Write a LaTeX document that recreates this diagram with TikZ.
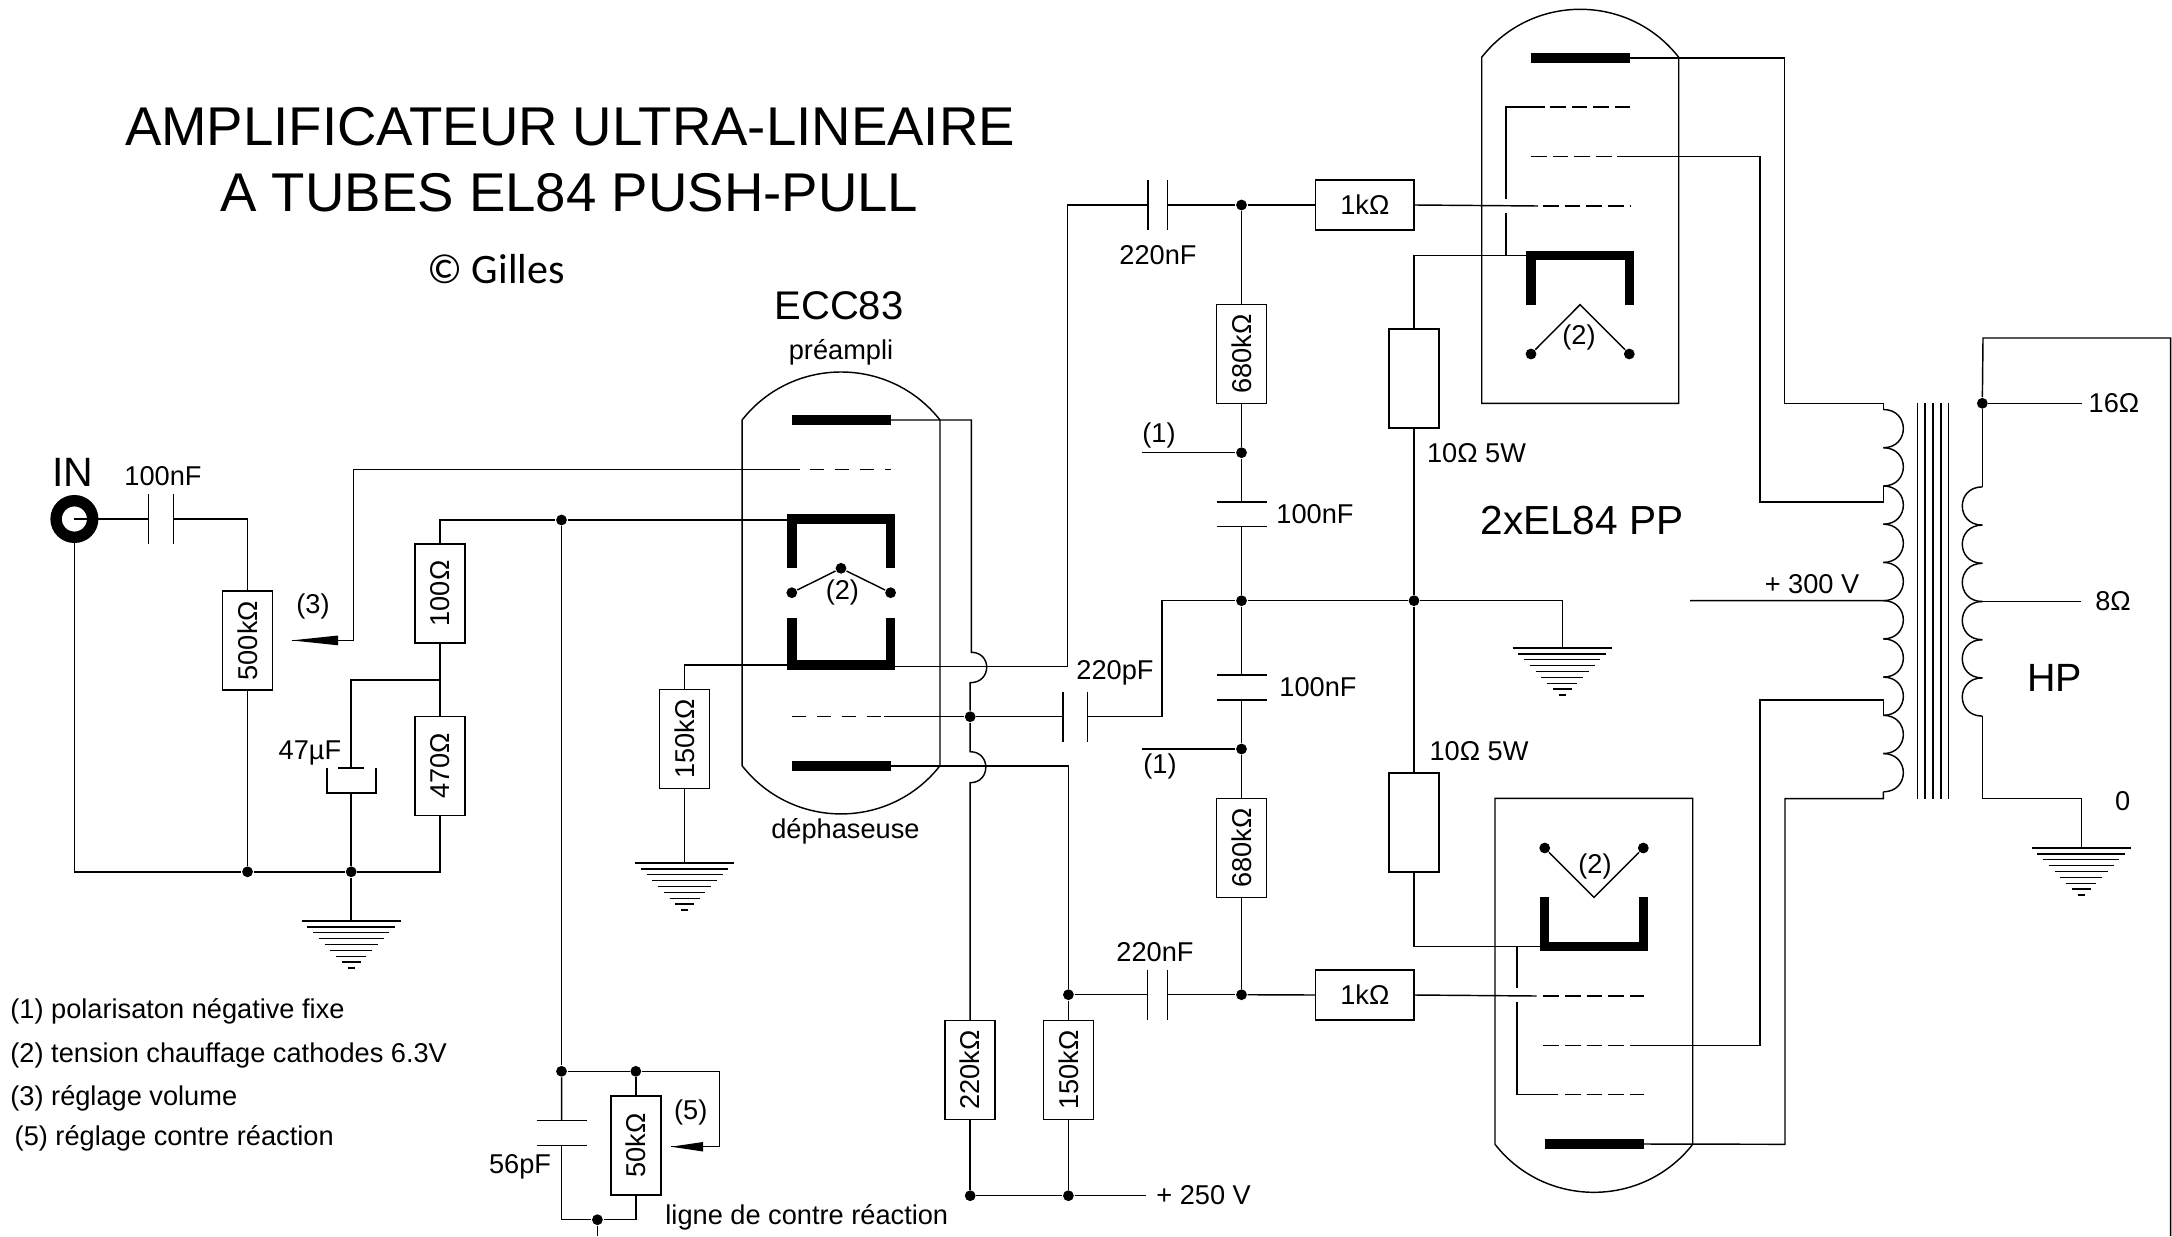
\documentclass[tikz,border=0pt]{standalone}
\usepackage{fontspec}
\setmainfont{Liberation Sans}
\newfontfamily\carlfont{Carlito}
\newcommand{\HCap}[4]{% name, x, y1, y2 : wire runs vertically, plates horizontal
  \coordinate (#1-a) at (#2,#3);\coordinate (#1-b) at (#2,#4);
  \draw ({#2-25},#3) -- ({#2+25},#3);
  \draw ({#2-25},#4) -- ({#2+25},#4);}
\newcommand{\VCap}[4]{% name, x1, x2, y : wire runs horizontally, plates vertical
  \coordinate (#1-a) at (#2,#4);\coordinate (#1-b) at (#3,#4);
  \draw (#2,{#4-25}) -- (#2,{#4+25});
  \draw (#3,{#4-25}) -- (#3,{#4+25});}
\tikzset{
  lab/.style={font=\fontsize{13.6}{15}\selectfont,inner sep=0pt,yshift=-1pt},
  big/.style={font=\fontsize{20}{24}\selectfont,inner sep=0pt},
  vres/.style={draw,rotate=90,minimum width=49.5pt,minimum height=25pt,inner sep=0pt,font=\fontsize{13.6}{15}\selectfont},
  hres/.style={draw,minimum width=49.3pt,minimum height=25pt,inner sep=0pt,font=\fontsize{13.6}{15}\selectfont},
  dot/.style={circle,fill=black,inner sep=0pt,minimum size=5.4pt},
  bar/.style={line width=5pt,line cap=butt},
  cath/.style={line width=4.7pt,line join=miter,line cap=butt},
  gridA/.style={line width=.6pt,dash pattern=on 7pt off 5.5pt},
  gridB/.style={line width=.6pt,dash pattern=on 7.8pt off 3.05pt},
  gndpic/.pic={
    \draw[line width=1.25pt] (-49.6,0) -- (49.6,0);
    \foreach \i in {1,...,8} \draw ({-49.6+5.75*\i},{5.87*\i}) -- ({49.6-5.75*\i},{5.87*\i});
  }
}
\begin{document}
\begin{tikzpicture}[x=0.5pt,y=-0.5pt,line width=.72pt]
\path[fill=white,use as bounding box] (0,0) rectangle (2172,1236);

% ---- titles and notes
\node[font=\fontsize{27.3}{32}\selectfont,inner sep=0pt] (title1) at (570,127) {AMPLIFICATEUR ULTRA-LINEAIRE};
\node[font=\fontsize{27.3}{32}\selectfont,inner sep=0pt] (title2) at (569.3,192.5) {A TUBES EL84 PUSH-PULL};
\node[font=\carlfont\fontsize{21}{25}\selectfont,inner sep=0pt] (title3) at (496,268.7) {© Gilles};
\node[big] (ecc) at (839,306) {ECC83};
\node[lab] (pre) at (841,350.4) {préampli};
\node[lab] (dephas) at (845.4,829) {déphaseuse};
\node[lab,anchor=west] (n1) at (9.7,1009) {(1) polarisaton négative fixe};
\node[lab,anchor=west] (n2) at (9.7,1053.6) {(2) tension chauffage cathodes 6.3V};
\node[lab,anchor=west] (n3) at (9.7,1096.6) {(3) réglage volume};
\node[lab,anchor=west] (n5) at (14,1136.7) {(5) réglage contre réaction};

% ---- input stage
\node[circle,draw,line width=5.7pt,minimum size=18.3pt,inner sep=0pt] (jack) at (74.4,519) {};
\node[font=\fontsize{20.5}{24}\selectfont,inner sep=0pt] (tIN) at (72.5,472) {IN};
\node[lab] (t100n) at (163,474) {100nF};
\VCap{C1}{148.3}{173.6}{519}
\draw (jack.center) -- (C1-a);

\node[vres] (R500) at (247.5,640.7) {500kΩ};
\node[vres] (R100) at (440,593.5) {100Ω};
\node[vres] (R470) at (440,766) {470Ω};
\node[dot] (J1) at (247.5,871.8) {};
\node[dot] (J2) at (351.2,871.8) {};
\coordinate (K1) at (440,680);
\coordinate (C47t) at (351.2,768);
\coordinate (C47b) at (351.2,793);
\draw (C1-b) -| (R500.east);
\draw (jack.south) |- (J1) -- (J2) -| (R470.west);
\draw (R500.west) -- (J1);
\draw (R100.west) -- (R470.east);
\draw (K1) -| (C47t);
\draw (338.4,768) -- (364,768);
\draw (327,768) -- (327,793) -- (376,793) -- (376,768);
\draw (C47b) -- (J2);
\coordinate (G1) at (351.2,921);
\draw (J2) -- (G1);
\pic at (G1) {gndpic};
\node[lab] (t47) at (310,751) {47µF};

% volume arrow
\coordinate (A3) at (291.6,640.4);
\coordinate (A3c) at (353.5,640.4);
\coordinate (G1s) at (800,469.5);
\fill (A3) -- (338,635.5) -- (338,645.3) -- cycle;
\draw (A3) -- (A3c) |- (G1s);
\node[lab] (t3) at (313,604) {(3)};

% ---- ECC83
\draw (742.1,420) .. controls (792.4,356) and (889.6,356) .. (940,420) -- (940,765.7)
      .. controls (889.6,830) and (792.4,830) .. (742.1,765.7) -- cycle;
% plates
\coordinate (Pa) at (890.6,420);
\coordinate (Pb) at (890.6,766);
\draw[bar] (791.8,420) -- (Pa);
\draw[bar] (791.8,766) -- (Pb);
% grids
\draw[gridA] (810,469.5) -- (890.6,469.5);
\draw[gridA] (792,716.7) -- (884,716.7);
% cathodes
\draw[cath] (791.8,568.3) -- (791.8,519) -- (890.7,519) -- (890.7,568.3);
\draw[cath] (791.8,617.7) -- (791.8,665) -- (890.7,665) -- (890.7,617.7);
% heater
\node[dot] (h1) at (791.8,592.7) {};
\node[dot] (h2) at (841,568.3) {};
\node[dot] (h3) at (890.6,592.7) {};
\draw (h1) -- (h2) -- (h3);
\node[lab] (t2a) at (842.4,590) {(2)};

\node[dot] (J561) at (561.5,520) {};
\draw (R100.east) |- (J561) -- (787.5,520);
\node[dot] (J1071) at (561.5,1071.3) {};
\draw (J561) -- (J1071);

\node[vres] (R150a) at (684.6,739) {150kΩ};
\coordinate (G2) at (684.6,863);
\draw (787.5,665) -| (R150a.east);
\draw (R150a.west) -- (G2);
\pic at (G2) {gndpic};

% anode / phase inverter wiring
\node[vres] (R220) at (970.2,1070) {220kΩ};
\node[vres] (R150b) at (1068.4,1070) {150kΩ};
\node[dot] (J970) at (970.2,716.7) {};
\node[dot] (J1068) at (1068.4,994.7) {};
\draw (Pa) -- (971.3,420) -- (971.3,652.3)
   .. controls (992,652.3) and (992,682.7) .. (970.2,682.7) -- (J970)
   -- (970.2,751.7) .. controls (991,751.7) and (991,782.7) .. (970.2,782.7) -- (R220.east);
\VCap{C220p}{1062.8}{1087.7}{716.7}
\draw (884,716.7) -- (J970) -- (C220p-a);
\coordinate (Cc) at (1067.4,205);
\VCap{C220a}{1148.2}{1167.6}{205}
\draw (895,666.7) -- (1067.4,666.7) -- (Cc) -- (C220a-a);
\draw (Pb) -- (1068.4,766) -- (J1068) -- (R150b.east);

\node[lab] (t220p) at (1115,671) {220pF};
\node[lab] (t220a) at (1158,253.5) {220nF};
\node[lab] (t220b) at (1155,950.5) {220nF};

% supply +250
\node[dot] (J250a) at (970.2,1195.7) {};
\node[dot] (J250b) at (1068.4,1195.7) {};
\coordinate (V250) at (1146,1195.7);
\draw (R220.west) -- (J250a) -- (J250b) -- (V250);
\draw (R150b.west) -- (J250b);
\node[lab] (t250) at (1203.6,1193) {+ 250 V};

% feedback
\node[dot] (J635) at (635.8,1071.3) {};
\node[vres] (R50) at (635.8,1145.5) {50kΩ};
\HCap{C56}{561.7}{1120.7}{1145.7}
\node[dot] (J597) at (597.4,1219.7) {};
\coordinate (Fb) at (597.4,1236);
\coordinate (A5) at (671,1146.7);
\coordinate (A5c) at (719.7,1146.7);
\fill (A5) -- (703,1142) -- (703,1151.5) -- cycle;
\draw (J1071) -- (J635) -- (719.7,1071.3) -- (A5c) -- (A5);
\draw (J635) -- (R50.east);
\draw (J1071) -- (C56-a);
\draw (C56-b) |- (J597) -| (R50.west);
\draw (J597) -- (Fb);
\node[lab] (t56) at (520,1165) {56pF};
\node[lab] (t5) at (690.7,1110.7) {(5)};
\node[lab] (tfb) at (806.8,1215.7) {ligne de contre réaction};

% ---- centre ladder
\node[dot] (M0) at (1241.5,205) {};
\node[dot] (M1) at (1241.5,452.7) {};
\node[dot] (M2) at (1241.5,600.7) {};
\node[dot] (M3) at (1241.5,749) {};
\node[dot] (M4) at (1241.5,994.7) {};
\node[vres] (R680a) at (1241.5,354) {680kΩ};
\node[vres] (R680b) at (1241.5,848) {680kΩ};
\HCap{C100a}{1241.5}{502}{526.7}
\HCap{C100b}{1241.5}{675}{700}
\draw (M0) -- (R680a.east);
\draw (R680a.west) -- (M1) -- (C100a-a);
\draw (C100a-b) -- (M2) -- (C100b-a);
\draw (C100b-b) -- (M3) -- (R680b.east);
\draw (R680b.west) -- (M4);
\coordinate (N1) at (1142,452.7);
\coordinate (N2) at (1142,749);
\draw (N1) -- (M1);
\draw (N2) -- (M3);
\node[lab] (t1a) at (1159,433) {(1)};
\node[lab] (t1b) at (1160,764) {(1)};
\node[lab] (t100a) at (1315,512) {100nF};
\node[lab] (t100b) at (1318,685) {100nF};
\draw (C220p-b) -| (1162,600.7) -- (M2);
\VCap{C220b}{1147.4}{1167.6}{994.7}
\draw (J1068) -- (C220b-a);
\draw (C220b-b) -- (M4);
\draw (C220a-b) -- (M0);

\node[hres] (R1a) at (1364.8,205) {1kΩ};
\node[hres] (R1b) at (1364.8,995) {1kΩ};
\draw (M0) -- (R1a.west);
\draw (M4) -- (R1b.west);

% ---- cathode resistors
\node[dot] (M5) at (1414,600.7) {};
\coordinate (G3) at (1562.3,648);
\node[vres,draw] (R10a) at (1414,378.7) {};
\node[vres,draw] (R10b) at (1414,822.7) {};
\node[lab] (t10a) at (1476.5,451) {10Ω 5W};
\node[lab] (t10b) at (1479,748.7) {10Ω 5W};
\draw (M2) -- (M5) -| (G3);
\pic at (G3) {gndpic};
\draw (R10a.west) -- (M5) -- (R10b.east);
\node[font=\fontsize{20.3}{24}\selectfont,inner sep=0pt] (tpp) at (1582,520.8) {2xEL84 PP};

% ---- upper EL84
\draw (1481.7,57.3) .. controls (1531.7,-6.7) and (1628.7,-6.7) .. (1678.7,57.3) -- (1678.7,403.3)
      -- (1481.7,403.3) -- cycle;
\coordinate (Ua) at (1630,57.8);
\draw[bar] (1531,57.8) -- (Ua);
\draw[gridB] (1550,107) -- (1630,107);
\draw[gridB] (1531,156.3) -- (1617,156.3);
\draw[gridB] (1543,206) -- (1630,206);
\draw[cath] (1531,304.7) -- (1531,255.3) -- (1629.7,255.3) -- (1629.7,304.7);
\node[dot] (uh1) at (1531,354) {};
\node[dot] (uh2) at (1629.3,354) {};
\coordinate (uh) at (1580,304.7);
\draw (uh1) -- (uh) -- (uh2);
\node[lab] (t2b) at (1579,335.7) {(2)};
% wiring
\draw (R1a.east) -- (1538,206);
\draw (1545,107) -- (1506,107) -- (1506,199.3);
\draw (1506,213.3) -- (1506,255.3);
\draw (R10a.east) |- (1526.5,255.3);

% ---- lower EL84
\draw (1495,798.3) -- (1692.7,798.3) -- (1692.7,1144.3)
      .. controls (1642.7,1208.3) and (1545,1208.3) .. (1495,1144.3) -- cycle;
\coordinate (La) at (1644,1144);
\draw[bar] (1545,1144) -- (La);
\draw[gridB] (1543.3,996) -- (1644,996);
\draw[gridB] (1543.3,1045.7) -- (1630,1045.7);
\draw[gridB] (1565,1094.3) -- (1644,1094.3);
\draw[cath] (1544.7,897.3) -- (1544.7,946.5) -- (1643.7,946.5) -- (1643.7,897.3);
\node[dot] (lh1) at (1544.7,848) {};
\node[dot] (lh2) at (1643.3,848) {};
\coordinate (lh) at (1594,897.3);
\draw (lh1) -- (lh) -- (lh2);
\node[lab] (t2c) at (1595,864) {(2)};
% wiring
\draw (R1b.east) -- (1536.7,996);
\draw (R10b.west) |- (1540,946.3);
\draw (1517,946.3) -- (1517,988.3);
\draw (1517,1001.7) -- (1517,1094.3) -- (1558,1094.3);

% ---- output transformer
\foreach \k in {0,...,9}
  \draw (1883.3,{409.5+38.23*\k}) .. controls (1910,{409.5+38.23*\k}) and (1910,{409.5+38.23*(\k+1)}) .. (1883.3,{409.5+38.23*(\k+1)});
\foreach \cx in {1917.3,1925,1933,1941,1948.7}
  \draw (\cx,403.3) -- (\cx,798.7);
\foreach \k in {0,...,5}
  \draw (1982.3,{486.9+38.2*\k}) .. controls (1955.6,{486.9+38.2*\k}) and (1955.6,{486.9+38.2*(\k+1)}) .. (1982.3,{486.9+38.2*(\k+1)});
\coordinate (Ptop) at (1883.3,403.3);
\coordinate (Pbot) at (1883.3,798.7);
\coordinate (Ptap1) at (1883.3,486);
\coordinate (Ptap2) at (1883.3,715.3);
\coordinate (Pctr) at (1883.3,600.6);
\draw (Ua) -- (1784.7,57.8) -- (1784.7,403.3) -- (Ptop) -- (1883.3,409.5);
\draw (1617,156.3) -- (1760,156.3) -- (1760,502) -- (1883.3,502) -- (Ptap1);
\draw (La) -- (1785,1144.3) -- (1785,798.7) -- (Pbot) -- (1883.3,791.8);
\draw (1630,1045.7) -- (1760,1045.7) -- (1760,700) -- (1883.3,700) -- (Ptap2);
\coordinate (V300) at (1690,600.7);
\draw (V300) -- (Pctr);
\node[lab] (t300) at (1812,582) {+ 300 V};

\node[dot] (S16) at (1982.3,403.3) {};
\coordinate (S16e) at (2082,403.3);
\coordinate (S8) at (1982.3,601.7);
\coordinate (S8e) at (2081,601.7);
\coordinate (S0) at (1982.3,716);
\coordinate (G4) at (2081.3,848);
\draw (S16) -- (S16e);
\draw (S8) -- (S8e);
\draw (S16) -- (1982.3,486.9);
\draw (S0) |- (2081.3,798.7) -- (G4);
\pic at (G4) {gndpic};
\draw (S16) -- (1983,338) -- (2170.5,338) -- (2170.5,1236);
\node[lab] (t16) at (2114,401) {16Ω};
\node[lab] (t8) at (2113,599) {8Ω};
\node[lab] (t0) at (2122.7,799) {0};
\node[font=\fontsize{19.7}{24}\selectfont,inner sep=0pt] (tHP) at (2054.7,678) {HP};
\end{tikzpicture}
\end{document}
